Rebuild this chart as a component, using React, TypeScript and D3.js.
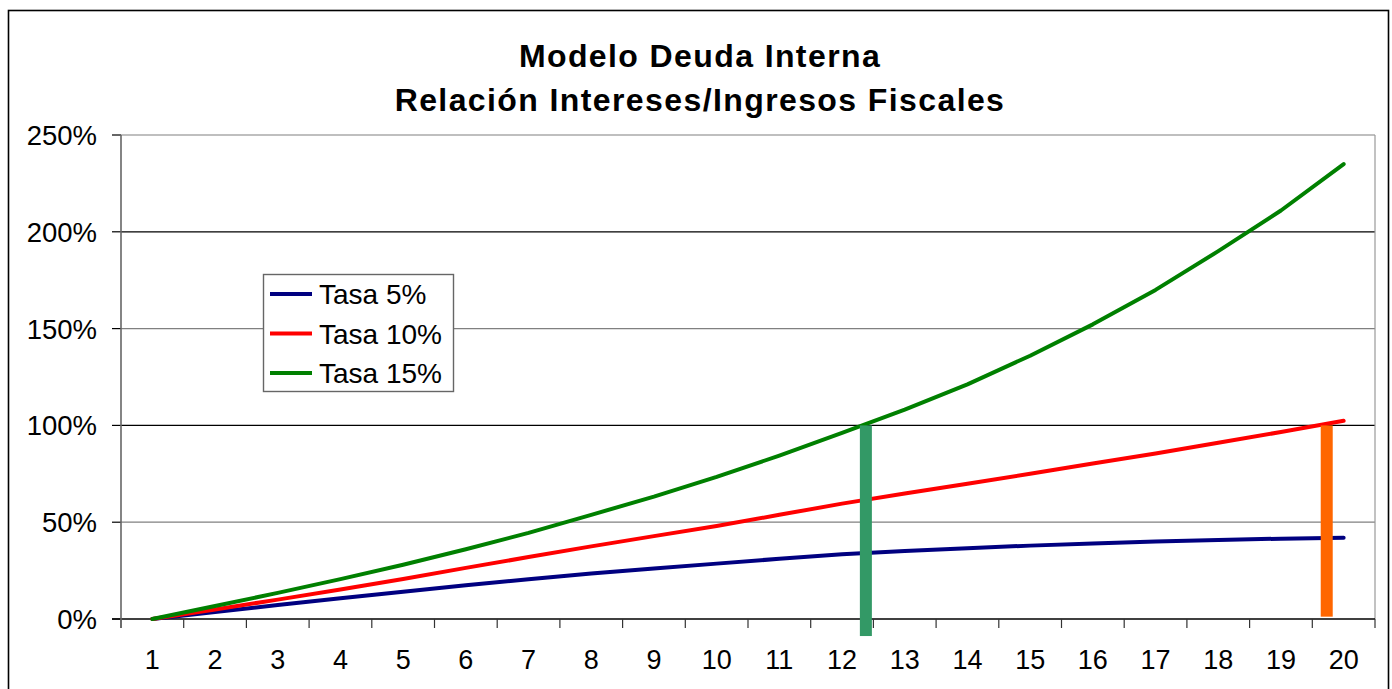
import React from "react";
import * as d3 from "d3";

const categories = [1, 2, 3, 4, 5, 6, 7, 8, 9, 10, 11, 12, 13, 14, 15, 16, 17, 18, 19, 20];
const tasa5 = [0, 3.6, 7.2, 10.7, 14.1, 17.4, 20.5, 23.5, 26.1, 28.6, 31.1, 33.4, 35.1, 36.6, 37.9, 39.0, 40.0, 40.8, 41.5, 42.0];
const tasa10 = [0, 4.9, 10.0, 15.2, 20.7, 26.4, 32.0, 37.5, 42.8, 48.0, 53.8, 59.6, 64.8, 69.9, 75.0, 80.3, 85.5, 91.0, 96.6, 102.4];
const tasa15 = [0, 6.7, 13.5, 20.6, 28.0, 36.0, 44.5, 53.8, 63.2, 73.4, 84.4, 96.2, 108.2, 121.2, 136.0, 152.2, 170.0, 190.0, 211.0, 235.0];
const yTicks = [0, 50, 100, 150, 200, 250];
const seriesNames = ["Tasa 5%", "Tasa 10%", "Tasa 15%"];
const seriesColors = ["#000080", "#FF0000", "#008000"];
const markerX = [12.38, 19.73];
const markerTop = [100, 100];
const markerBottom = [-8.8, 1.2];
const markerColors = ["#339966", "#FF6600"];
const titleLines = ["Modelo Deuda Interna", "Relación Intereses/Ingresos Fiscales"];

const FONT = "'Liberation Sans', Arial, Helvetica, sans-serif";

export default function App() {
  const W = 1392;
  const H = 689;
  const x = d3.scaleLinear().domain([0.5, 20.5]).range([121, 1375]);
  const y = d3.scaleLinear().domain([0, 250]).range([619, 135]);
  const series = [tasa5, tasa10, tasa15];
  const line = d3
    .line<number>()
    .x((_, i) => x(categories[i]))
    .y((v) => y(v));
  const gridColor = (t: number) => (t === 100 || t === 200 ? "#000" : "#808080");
  const boundaries = d3.range(0, categories.length + 1).map((i) => i + 0.5);

  return (
    <svg
      width={W}
      height={H}
      style={{ position: "absolute", left: 0, top: 0, background: "#fff" }}
      fontFamily={FONT}
    >
      <rect x={0} y={0} width={W} height={H} fill="#fff" />
      <rect x={8.5} y={10.5} width={1380} height={700} fill="none" stroke="#000" strokeWidth={1.6} />

      {titleLines.map((t, i) => (
        <text
          key={t}
          x={700}
          y={67 + i * 44}
          textAnchor="middle"
          fontSize={32}
          fontWeight="bold"
          letterSpacing={1.4}
          fill="#000"
        >
          {t}
        </text>
      ))}

      {/* gridlines */}
      {yTicks.filter((t) => t > 0).map((t) => (
        <line key={t} x1={121} x2={1375} y1={y(t)} y2={y(t)} stroke={gridColor(t)} strokeWidth={1.2} />
      ))}
      {/* right border */}
      <line x1={1375} x2={1375} y1={y(250)} y2={y(0)} stroke="#999" strokeWidth={1.2} />

      {/* y ticks and labels */}
      {yTicks.map((t) => (
        <g key={t}>
          <line x1={112} x2={121} y1={y(t)} y2={y(t)} stroke="#000" strokeWidth={1.2} />
          <text x={97} y={y(t) + 10} textAnchor="end" fontSize={27.5} fill="#000">
            {t + "%"}
          </text>
        </g>
      ))}

      {/* x axis */}
      <line x1={112} x2={1375} y1={y(0)} y2={y(0)} stroke="#000" strokeWidth={1.4} />
      {boundaries.map((b) => (
        <line key={b} x1={x(b)} x2={x(b)} y1={y(0)} y2={y(0) + 9} stroke="#333" strokeWidth={1.2} />
      ))}
      {categories.map((c) => (
        <text key={c} x={x(c)} y={669} textAnchor="middle" fontSize={27} fill="#000">
          {c}
        </text>
      ))}
      {/* y axis */}
      <line x1={121} x2={121} y1={y(250)} y2={y(0) + 9} stroke="#666" strokeWidth={1.6} />

      {/* series */}
      {series.map((s, i) => (
        <path
          key={seriesNames[i]}
          d={line(s) || ""}
          fill="none"
          stroke={seriesColors[i]}
          strokeWidth={4}
          strokeLinejoin="round"
          strokeLinecap="round"
        />
      ))}

      {/* markers */}
      {markerX.map((m, i) => (
        <rect
          key={m}
          x={x(m) - 6}
          y={y(markerTop[i])}
          width={12}
          height={y(markerBottom[i]) - y(markerTop[i])}
          fill={markerColors[i]}
        />
      ))}

      {/* legend */}
      <rect x={263.5} y={274.5} width={190} height={117} fill="#fff" stroke="#666" strokeWidth={1.4} />
      {seriesNames.map((n, i) => (
        <g key={n}>
          <line x1={270} x2={312} y1={294 + i * 39.5} y2={294 + i * 39.5} stroke={seriesColors[i]} strokeWidth={4} />
          <text x={319} y={304 + i * 39.5} fontSize={28} fill="#000">
            {n}
          </text>
        </g>
      ))}
    </svg>
  );
}
